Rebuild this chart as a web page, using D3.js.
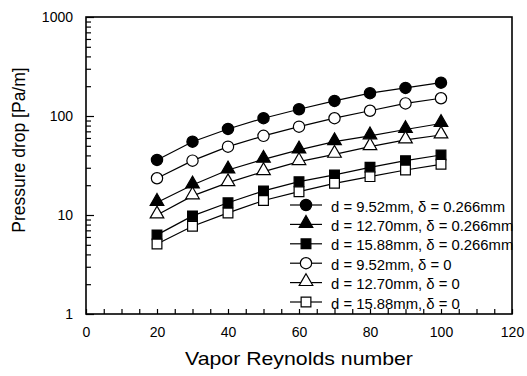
<!doctype html>
<html>
<head>
<script src="https://d3js.org/d3.v7.min.js"></script>
<style>
  body { margin: 0; background: #fff; }
  text { font-family: "Liberation Sans", Arial, sans-serif; fill: #000; }
</style>
</head>
<body>
<svg width="527" height="376"></svg>
<script>
// Reynolds numbers and pressure drop [Pa/m]
var reynolds = [20, 30, 40, 50, 60, 70, 80, 90, 100];

var d952_g266  = [36, 55, 74, 95, 117, 142, 170, 192, 217];
var d1270_g266 = [13.4, 20.1, 28.5, 36.5, 45.4, 55, 63, 73, 84];
var d1588_g266 = [6.3, 9.8, 13.3, 17.5, 21.7, 25.4, 30.3, 35.4, 40.4];
var d952_g0    = [23.5, 35.4, 49, 63, 78, 95, 113, 134, 151];
var d1270_g0   = [10, 15.6, 21.2, 27.4, 34.6, 41, 49, 57.3, 64.3];
var d1588_g0   = [5.1, 7.7, 10.5, 14, 17.2, 20.9, 24.4, 28.5, 32.5];

var seriesNames = [
  "d = 9.52mm, \u03b4 = 0.266mm",
  "d = 12.70mm, \u03b4 = 0.266mm",
  "d = 15.88mm, \u03b4 = 0.266mm",
  "d = 9.52mm, \u03b4 = 0",
  "d = 12.70mm, \u03b4 = 0",
  "d = 15.88mm, \u03b4 = 0"
];
var seriesValues = [d952_g266, d1270_g266, d1588_g266, d952_g0, d1270_g0, d1588_g0];
var seriesShapes = ["circle", "triangle", "square", "circle", "triangle", "square"];
var seriesFilled = [true, true, true, false, false, false];

var xTicks = [0, 20, 40, 60, 80, 100, 120];
var yTicks = [1, 10, 100, 1000];

var svg = d3.select("svg");
var plotLeft = 86, plotRight = 512, plotTop = 17, plotBottom = 314;

var x = d3.scaleLinear().domain([0, 120]).range([plotLeft, plotRight]);
var y = d3.scaleLog().domain([1, 1000]).range([plotBottom, plotTop]);

var symbolType = {
  circle: d3.symbolCircle,
  triangle: d3.symbolTriangle,
  square: d3.symbolSquare
};
var symbolSize = { circle: 100, triangle: 80, square: 95 };

function marker(g, shape, filled) {
  g.append("path")
    .attr("d", d3.symbol().type(symbolType[shape]).size(symbolSize[shape])())
    .attr("transform", shape == "triangle" ? "translate(0,-1)" : null)
    .attr("fill", filled ? "#000" : "#fff")
    .attr("stroke", "#000")
    .attr("stroke-width", 1.2);
}

// the scanned figure is a bit wider than tall, so stretch text sideways a little
function widen(sel, k) {
  sel.each(function() {
    var len = this.getComputedTextLength();
    d3.select(this).attr("textLength", len * k).attr("lengthAdjust", "spacingAndGlyphs");
  });
}

// axes: ticks pointing inward
var minorX = d3.range(0, 121, 5);
svg.append("g")
  .attr("transform", "translate(0," + plotBottom + ")")
  .call(d3.axisTop(x).tickValues(minorX).tickSize(5).tickFormat(""))
  .call(function(g) { g.select(".domain").remove(); });

svg.append("g")
  .attr("transform", "translate(0," + plotBottom + ")")
  .call(d3.axisBottom(x).tickValues(xTicks).tickSize(0).tickPadding(13))
  .call(function(g) {
    g.select(".domain").remove();
    g.selectAll("text").attr("font-size", "14px").attr("font-family", "Liberation Sans, Arial, sans-serif");
  });

var minorY = [];
[1, 10, 100].forEach(function(dec) {
  for (var k = 2; k <= 9; k++) minorY.push(dec * k);
});
svg.append("g")
  .attr("transform", "translate(" + plotLeft + ",0)")
  .call(d3.axisRight(y).tickValues(minorY).tickSize(5).tickFormat(""))
  .call(function(g) { g.select(".domain").remove(); });

svg.append("g")
  .attr("transform", "translate(" + plotLeft + ",0)")
  .call(d3.axisRight(y).tickValues(yTicks).tickSize(8).tickFormat(""))
  .call(function(g) { g.select(".domain").remove(); });

svg.append("g")
  .attr("transform", "translate(" + plotLeft + ",0)")
  .call(d3.axisLeft(y).tickValues(yTicks).tickSize(0).tickPadding(13).tickFormat(d3.format("d")))
  .call(function(g) {
    g.select(".domain").remove();
    g.selectAll("text").attr("font-size", "14px").attr("font-family", "Liberation Sans, Arial, sans-serif");
  });

svg.selectAll(".tick line").attr("stroke", "#000").attr("stroke-width", 1.2);

// frame
svg.append("rect")
  .attr("x", plotLeft).attr("y", plotTop)
  .attr("width", plotRight - plotLeft).attr("height", plotBottom - plotTop)
  .attr("fill", "none").attr("stroke", "#000").attr("stroke-width", 1.6);

// series
var line = d3.line()
  .x(function(d, i) { return x(reynolds[i]); })
  .y(function(d) { return y(d); });

seriesValues.forEach(function(vals, s) {
  svg.append("path")
    .datum(vals)
    .attr("d", line)
    .attr("fill", "none")
    .attr("stroke", "#000")
    .attr("stroke-width", 1.2);
  vals.forEach(function(v, i) {
    var g = svg.append("g").attr("transform", "translate(" + x(reynolds[i]) + "," + y(v) + ")");
    marker(g, seriesShapes[s], seriesFilled[s]);
  });
});

// legend
var legend = svg.append("g").attr("transform", "translate(290,205)");
seriesNames.forEach(function(name, s) {
  var row = legend.append("g").attr("transform", "translate(0," + (s * 19.4) + ")");
  row.append("line")
    .attr("x1", 0).attr("x2", 32).attr("y1", 0).attr("y2", 0)
    .attr("stroke", "#000").attr("stroke-width", 1.2);
  var m = row.append("g").attr("transform", "translate(16,0)");
  marker(m, seriesShapes[s], seriesFilled[s]);
  row.append("text")
    .attr("x", 41).attr("y", 6.5)
    .attr("font-size", "14px")
    .text(name)
    .call(widen, 1.06);
});

// axis titles
svg.append("text")
  .attr("x", (plotLeft + plotRight) / 2).attr("y", 365)
  .attr("text-anchor", "middle")
  .attr("font-size", "19px")
  .text("Vapor Reynolds number")
  .call(widen, 1.12);

svg.append("text")
  .attr("transform", "translate(25,150) rotate(-90)")
  .attr("text-anchor", "middle")
  .attr("font-size", "17.5px")
  .text("Pressure drop [Pa/m]");
</script>
</body>
</html>
